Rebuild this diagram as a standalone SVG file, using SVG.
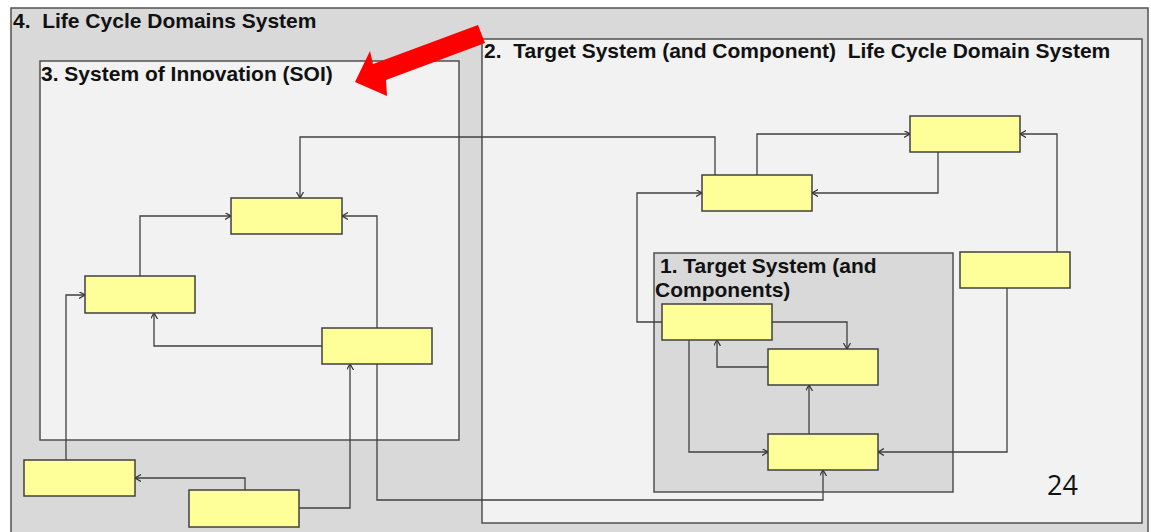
<svg xmlns="http://www.w3.org/2000/svg" width="1151" height="532" viewBox="0 0 1151 532">
<defs>
<style>
.frame{stroke:#505050;stroke-width:1.5}
.outer{fill:#d9d9d9}
.light{fill:#f2f2f2}
.node rect{fill:#ffff99;stroke:#404040;stroke-width:1.5}
.title{font-family:"Liberation Sans",Arial,sans-serif;font-weight:bold;font-size:21px;fill:#111;white-space:pre}
.conn polyline{fill:none;stroke:#404040;stroke-width:1.3;marker-end:url(#arr)}
.num{font-family:"Open Sans","Noto Sans",sans-serif;font-size:27px;fill:#111}
</style>
<marker id="arr" markerUnits="userSpaceOnUse" markerWidth="10" markerHeight="10" refX="6" refY="3.5" orient="auto">
<path d="M0,0 L6,3.5 L0,7" fill="none" stroke="#303030" stroke-width="1.2"/>
</marker>
</defs>
<rect x="0" y="0" width="1151" height="532" fill="#ffffff"/>
<g id="domain4">
<rect class="frame outer" x="11" y="8" width="1137" height="530"/>
<text class="title" x="13" y="28" xml:space="preserve">4.  Life Cycle Domains System</text>
</g>
<g id="domain3">
<rect class="frame light" x="40" y="61" width="419" height="379"/>
<text class="title" x="41" y="81">3. System of Innovation (SOI)</text>
</g>
<g id="domain2">
<rect class="frame light" x="482" y="39" width="660" height="484"/>
<text class="title" x="484" y="58" xml:space="preserve">2.  Target System (and Component)  Life Cycle Domain System</text>
</g>
<g id="domain1">
<rect class="frame outer" x="654" y="253" width="299" height="239"/>
<text class="title" x="660" y="273">1. Target System (and</text>
<text class="title" x="655" y="297">Components)</text>
</g>
<g id="connectors" class="conn">
<polyline points="715,175 715,137 300,137 300,198"/>
<polyline points="140,276 140,216 231,216"/>
<polyline points="377,328 377,216 342,216"/>
<polyline points="322,346 154,346 154,313"/>
<polyline points="66,460 66,295 85,295"/>
<polyline points="245,490 245,478 135,478"/>
<polyline points="299,508 350,508 350,364"/>
<polyline points="377,364 377,500 823,500 823,470"/>
<polyline points="938,152 938,193 812,193"/>
<polyline points="757,175 757,134 910,134"/>
<polyline points="1057,252 1057,134 1020,134"/>
<polyline points="662,322 637,322 637,193 702,193"/>
<polyline points="772,322 847,322 847,349"/>
<polyline points="768,367 717,367 717,340"/>
<polyline points="809,434 809,385"/>
<polyline points="689,340 689,452 768,452"/>
<polyline points="1007,288 1007,452 878,452"/>
</g>
<g id="nodeA" class="node"><rect x="231" y="198" width="111" height="36"/></g>
<g id="nodeB" class="node"><rect x="85" y="276" width="110" height="37"/></g>
<g id="nodeC" class="node"><rect x="322" y="328" width="110" height="36"/></g>
<g id="nodeD" class="node"><rect x="24" y="460" width="111" height="36"/></g>
<g id="nodeE" class="node"><rect x="189" y="490" width="110" height="37"/></g>
<g id="nodeF" class="node"><rect x="702" y="175" width="110" height="36"/></g>
<g id="nodeG" class="node"><rect x="910" y="116" width="110" height="36"/></g>
<g id="nodeH" class="node"><rect x="960" y="252" width="110" height="36"/></g>
<g id="nodeI" class="node"><rect x="662" y="304" width="110" height="36"/></g>
<g id="nodeJ" class="node"><rect x="768" y="349" width="110" height="36"/></g>
<g id="nodeK" class="node"><rect x="768" y="434" width="110" height="36"/></g>
<g id="pointer">
<polygon points="478,25 485,43 386,80 387,96 355,82 370,51 373,64" fill="#ff0000"/>
</g>
<text class="num" x="1047" y="495">24</text>
</svg>
